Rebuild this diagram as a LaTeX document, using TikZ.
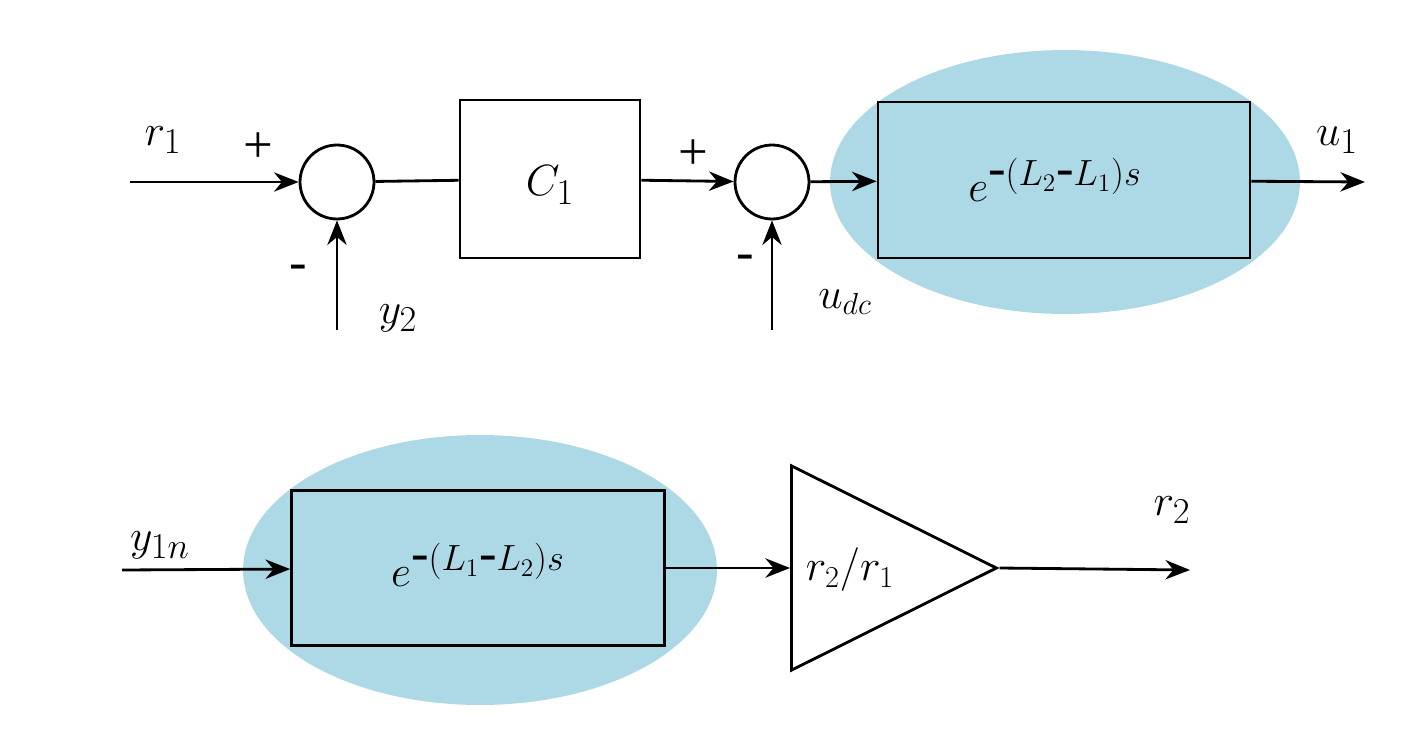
\documentclass[tikz,border=0pt]{standalone}
\usepackage{fontspec}
\setmainfont{Liberation Serif}
\usetikzlibrary{arrows.meta,shapes.geometric}
\definecolor{lb}{RGB}{173,216,230}
\begin{document}
\begin{tikzpicture}[x=0.02cm,y=-0.02cm,
  ln/.style={line width=1.6pt},
  ar/.style={ln,-{Stealth[length=14pt,width=11pt]}},
  sum/.style={circle,draw,line width=1.6pt,minimum size=1.48cm,inner sep=0pt},
  lbl/.style={font=\fontsize{30}{32}\selectfont},
  sm/.style={font=\fontsize{24}{26}\selectfont}]
\useasboundingbox (0,0) rectangle (1423,747);
% top
\node[sum] (s1) at (337,182) {};
\node[sum] (s2) at (772,182) {};
\node[draw,ln,minimum width=3.6cm,minimum height=3.16cm] (c1) at (550,179) {};
\node[lbl] at (550,185) {$C_{1}$};
\fill[lb] (1065,182) ellipse [x radius=4.7cm, y radius=2.64cm];
\node[draw,ln,fill=lb,minimum width=7.44cm,minimum height=3.12cm] (d1) at (1064,180) {};
\node[lbl] at (1055,180) {$e^{\mbox{-}(L_{2}\mbox{-}L_{1})s}$};
\coordinate (in1) at (130,182);
\coordinate (y2s) at (337,330);
\coordinate (uds) at (772,330);
\coordinate (o1) at (1365,182);
\draw[ar] (in1) -- (s1);
\draw[ar] (y2s) -- (s1);
\draw[ln] (s1) -- (c1);
\draw[ar] (c1) -- (s2);
\draw[ar] (uds) -- (s2);
\draw[ar] (s2) -- (d1);
\draw[ar] (d1) -- (o1);
\node[lbl] (lr1) at (163,140) {$r_{1}$};
\node[lbl] (p1) at (258,148) {+};
\node[lbl] (m1) at (298,272) {-};
\node[lbl] (ly2) at (398,318) {$y_{2}$};
\node[lbl] (p2) at (693,155) {+};
\node[lbl] (m2) at (745,262) {-};
\node[sm] (lud) at (845,302) {$u_{dc}$};
\node[lbl] (lu1) at (1337,140) {$u_{1}$};
% bottom
\fill[lb] (480,570) ellipse [x radius=4.74cm, y radius=2.7cm];
\node[draw,ln,fill=lb,minimum width=7.46cm,minimum height=3.1cm] (d2) at (478,568) {};
\node[lbl] at (478,565) {$e^{\mbox{-}(L_{1}\mbox{-}L_{2})s}$};
\node[draw,ln,isosceles triangle,isosceles triangle apex angle=53,minimum height=4.1cm,inner sep=0pt,anchor=west] (g) at (790,568) {};
\node[font=\fontsize{27}{29}\selectfont] at (850,570) {$r_{2}/r_{1}$};
\coordinate (in2) at (122,570);
\coordinate (o2) at (1190,570);
\draw[ar] (in2) -- (d2);
\draw[ar] (d2) -- (g.west);
\draw[ar] (g.apex) -- (o2);
\node[lbl] (ly1) at (160,545) {$y_{1n}$};
\node[lbl] (lr2) at (1172,510) {$r_{2}$};
\end{tikzpicture}
\end{document}
